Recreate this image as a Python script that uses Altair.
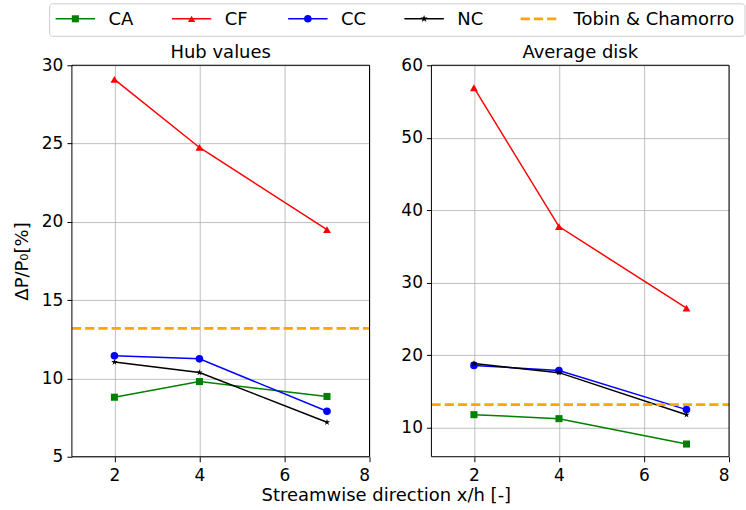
import altair as alt
import pandas as pd

# ---------------- data ----------------
X_POS = [2, 4, 7]
SERIES = ["CA", "CF", "CC", "NC"]
HUB = {
    "CA": [8.8, 9.8, 8.85],
    "CF": [29.1, 24.75, 19.5],
    "CC": [11.45, 11.25, 7.9],
    "NC": [11.05, 10.38, 7.2],
}
DISK = {
    "CA": [11.8, 11.25, 7.75],
    "CF": [56.9, 37.75, 26.5],
    "CC": [18.6, 17.9, 12.5],
    "NC": [18.85, 17.6, 11.8],
}
TOBIN = 13.2
TOBIN_NAME = "Tobin & Chamorro"

COLORS = {"CA": "#008000", "CF": "#ff0000", "CC": "#0000ff", "NC": "#000000"}
STAR = ("M0,-1L0.2234,-0.3074L0.9511,-0.309L0.3614,0.1174L0.5878,0.809L0,0.38"
        "L-0.5878,0.809L-0.3614,0.1174L-0.9511,-0.309L-0.2234,-0.3074Z")
SHAPES = {"CA": "square", "CF": "triangle-up", "CC": "circle", "NC": STAR}
SIZES = {"CA": 50, "CF": 62, "CC": 58, "NC": 45}
ORANGE = "#ffa500"

X_DOMAIN = [1, 8]
X_TICKS = [2, 4, 6, 8]

FONT = "DejaVu Sans"
PW, PH = 298, 392


def panel(values, y_domain, y_ticks, title, y_title):
    layers = []
    for s in SERIES:
        df = pd.DataFrame({"x": X_POS, "y": values[s]})
        layers.append(
            alt.Chart(df).mark_line(
                color=COLORS[s], strokeWidth=1.5,
                point=alt.OverlayMarkDef(shape=SHAPES[s], size=SIZES[s], filled=True,
                                         color=COLORS[s], opacity=1),
            ).encode(
                x=alt.X("x:Q", scale=alt.Scale(domain=X_DOMAIN, nice=False, zero=False),
                        axis=alt.Axis(values=X_TICKS, format="d", title=None, labelPadding=5.5)),
                y=alt.Y("y:Q", scale=alt.Scale(domain=y_domain, nice=False, zero=False),
                        axis=alt.Axis(values=y_ticks, format="d", title=y_title,
                                      labelPadding=4, titlePadding=10)),
            )
        )
    tdf = pd.DataFrame({"y": [TOBIN], "x0": [X_DOMAIN[0]], "x1": [X_DOMAIN[1]]})
    layers.append(
        alt.Chart(tdf).mark_rule(color=ORANGE, strokeWidth=2.7, strokeDash=[9.25, 4]).encode(
            x="x0:Q", x2="x1:Q", y="y:Q")
    )
    frame = alt.Chart(pd.DataFrame({"a": [0]})).mark_rect(
        filled=False, stroke="black", strokeWidth=1).encode(
        x=alt.value(0), x2=alt.value(PW), y=alt.value(0), y2=alt.value(PH))
    layers.append(frame)
    return alt.layer(*layers).properties(
        width=PW, height=PH,
        title=alt.TitleParams(title, fontSize=18, font=FONT, fontWeight="normal",
                              color="black", anchor="middle", baseline="alphabetic",
                              offset=-19.5),
    )


left = panel(HUB, [5, 30], [5, 10, 15, 20, 25, 30], "Hub values", "ΔP/P₀[%]")
right = panel(DISK, [6, 60], [10, 20, 30, 40, 50, 60], "Average disk", None)

# ---------------- legend ----------------
# legend group origin is aligned with the left plot's origin
LEG_NAMES = SERIES + [TOBIN_NAME]
LEG_COLORS = [COLORS[s] for s in SERIES] + [ORANGE]
leg_df = pd.DataFrame({"name": LEG_NAMES, "i": list(range(len(LEG_NAMES)))})
LEG_W, LEG_H = 674, 33
LY = 15.5
xleg = alt.X("i:Q", scale=alt.Scale(domain=[0, 1], range=[-16.3, 100.1]), axis=None)
cleg = alt.Color("name:N", scale=alt.Scale(domain=LEG_NAMES, range=LEG_COLORS), legend=None)

box = alt.Chart(pd.DataFrame({"a": [0]})).mark_rect(
    fill="white", stroke="#cccccc", strokeWidth=1, cornerRadius=3).encode(
    x=alt.value(-22.3), x2=alt.value(LEG_W), y=alt.value(0.5), y2=alt.value(LEG_H))
leg_lines = alt.Chart(leg_df).transform_filter(
    alt.FieldOneOfPredicate(field="name", oneOf=SERIES)).mark_rule(
    strokeWidth=1.5, x2Offset=39.5).encode(x=xleg, x2=alt.X2("i"), y=alt.value(LY), color=cleg)
leg_pts = alt.Chart(leg_df).transform_filter(
    alt.FieldOneOfPredicate(field="name", oneOf=SERIES)).mark_point(
    filled=True, opacity=1, xOffset=19.75).encode(
    x=xleg, y=alt.value(LY), color=cleg,
    shape=alt.Shape("name:N", scale=alt.Scale(domain=SERIES, range=[SHAPES[s] for s in SERIES]),
                    legend=None),
    size=alt.Size("name:N", scale=alt.Scale(domain=SERIES, range=[SIZES[s] for s in SERIES]),
                  legend=None),
)
leg_dash = alt.Chart(leg_df).transform_filter(
    alt.FieldEqualPredicate(field="name", equal=TOBIN_NAME)).mark_rule(
    strokeWidth=2.7, strokeDash=[9.25, 4], x2Offset=39.5).encode(
    x=xleg, x2=alt.X2("i"), y=alt.value(LY), color=cleg)
leg_text = alt.Chart(leg_df).mark_text(
    align="left", baseline="middle", dx=53, fontSize=18, font=FONT, color="black").encode(
    x=xleg, y=alt.value(LY + 1), text="name:N")
legend = alt.layer(box, leg_lines, leg_dash, leg_pts, leg_text).properties(width=LEG_W, height=LEG_H)

panels = alt.hconcat(left, right, spacing=29).properties(
    title=alt.TitleParams("Streamwise direction x/h [-]", orient="bottom", anchor="middle",
                          fontSize=18, font=FONT, fontWeight="normal", color="black",
                          baseline="alphabetic", offset=18, dx=14.5))

chart = alt.vconcat(legend, panels, spacing=6).properties(
    padding={"left": 13, "top": 3, "right": 0, "bottom": 0}
).configure_view(strokeWidth=0).configure_axis(
    grid=True, gridColor="#b0b0b0", gridWidth=0.8, domain=False,
    tickColor="black", tickSize=5, tickWidth=1,
    labelColor="black", labelFont=FONT, labelFontSize=17,
    titleColor="black", titleFont=FONT, titleFontSize=18, titleFontWeight="normal",
)

chart.save("out.html", embed_options={"renderer": "svg", "actions": False})
